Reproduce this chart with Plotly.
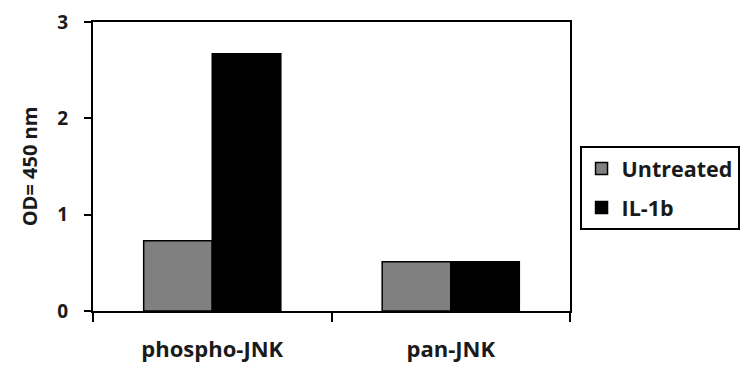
import plotly.graph_objects as go

categories = ["phospho-JNK", "pan-JNK"]
untreated = [0.73, 0.51]
il1b = [2.67, 0.51]
y_ticks = [0, 1, 2, 3]

FONT = "Open Sans"

fig = go.Figure()
fig.add_trace(go.Bar(x=categories, y=untreated, name="Untreated",
                     marker=dict(color="#808080", line=dict(color="black", width=1.5)),
                     legendgroup="a"))
fig.add_trace(go.Bar(x=categories, y=il1b, name="IL-1b",
                     marker=dict(color="#000000", line=dict(color="black", width=1.5)),
                     legendgroup="b"))

fig.update_layout(
    width=750, height=376,
    margin=dict(l=93, r=180, t=22, b=65, autoexpand=False),
    paper_bgcolor="white", plot_bgcolor="white",
    barmode="group", bargap=0.425, bargroupgap=0,
    font=dict(family=FONT, color="#1a1a1a"),
    showlegend=True,
    legend=dict(x=1.02, y=0.571, xanchor="left", yanchor="top",
                bordercolor="black", borderwidth=2,
                font=dict(family=FONT, size=21.5, weight="bold", color="#1a1a1a"),
                tracegroupgap=8, itemwidth=30),
)
fig.update_xaxes(
    showline=True, linecolor="black", linewidth=2, mirror=True,
    ticks="outside", tickson="boundaries", ticklen=9, tickwidth=2, tickcolor="black",
    tickfont=dict(family=FONT, size=22, weight="bold", color="#1a1a1a"),
    ticklabelstandoff=18,
    showgrid=False,
)
fig.update_yaxes(
    range=[0, 3], tickvals=y_ticks,
    showline=True, linecolor="black", linewidth=2, mirror=True,
    ticks="outside", ticklen=7, tickwidth=2, tickcolor="black",
    tickfont=dict(family=FONT, size=19, weight="bold", color="#1a1a1a"),
    ticklabelstandoff=12,
    showgrid=False, zeroline=False,
    title=dict(text="OD= 450 nm", font=dict(family=FONT, size=20, weight="bold", color="#1a1a1a"),
               standoff=14),
)

fig.write_html("out.html")
